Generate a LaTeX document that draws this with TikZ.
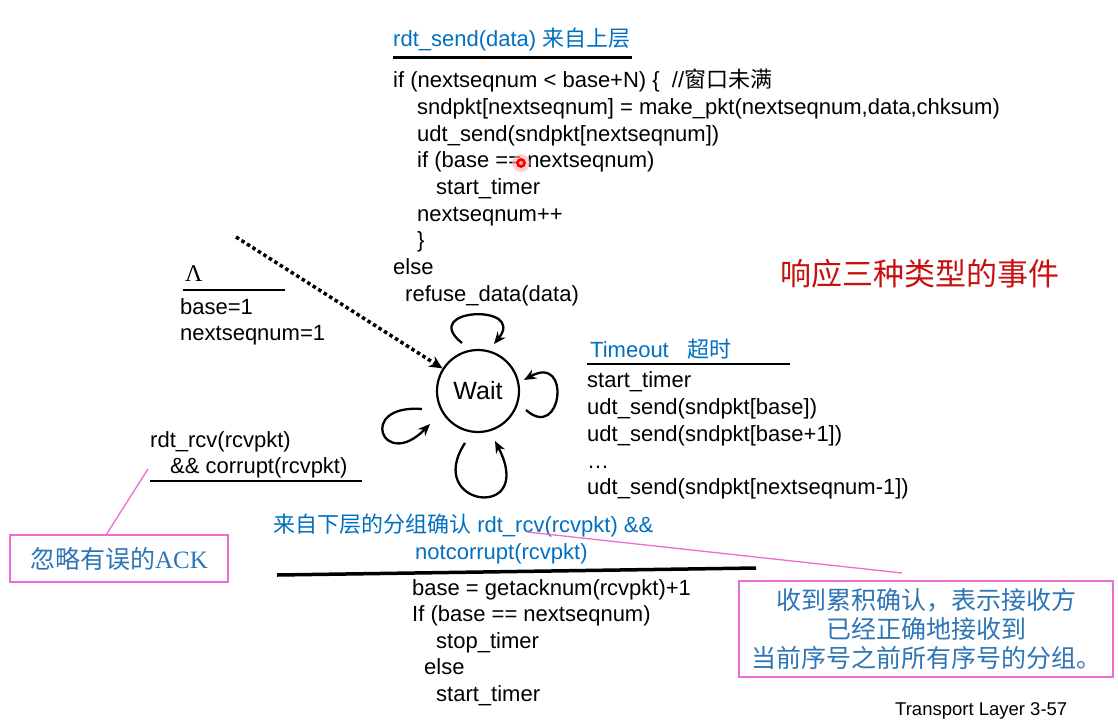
\documentclass[tikz,border=0pt]{standalone}
\usepackage{fontspec}
\setmainfont{Liberation Sans}
\newfontfamily\cjk{Noto Sans CJK SC}
\newfontfamily\serifl{Liberation Serif}
\usetikzlibrary{arrows.meta}
\definecolor{tblue}{RGB}{0,112,192}
\definecolor{cblue}{RGB}{46,117,182}
\definecolor{cpink}{RGB}{235,110,215}
\definecolor{tred}{RGB}{200,16,16}
\begin{document}
\begin{tikzpicture}[x=1pt,y=-1pt,
  code/.style={font=\fontsize{22}{26}\selectfont, anchor=base west, inner sep=0pt, text=black},
  ttl/.style={code, text=tblue},
  uline/.style={line width=3pt},
  sloop/.style={line width=2.3pt, -{Stealth[length=12pt,width=10pt]}},
  callout/.style={draw=cpink, line width=1.6pt, text=cblue, inner sep=0pt, font=\cjk\fontsize{25}{29}\selectfont, align=center},
  pinkline/.style={cpink, line width=1.3pt}]

\fill[white] (0,0) rectangle (1118,726);
\useasboundingbox (0,0) rectangle (1118,726);

% top block: rdt_send
\node[ttl] (t0) at (393,46) {rdt\_send(data) {\cjk 来自上层}};
\draw[uline] (393,57) -- (632,57);
\node[code] (t1) at (393,87) {if (nextseqnum < base+N) \{\ \ //{\cjk 窗口未满}};
\node[code] (t2) at (417,114) {sndpkt[nextseqnum] = make\_pkt(nextseqnum,data,chksum)};
\node[code] (t3) at (417,141) {udt\_send(sndpkt[nextseqnum])};
\node[code] (t4) at (417,167) {if (base == nextseqnum)};
\node[code] (t5) at (436,194) {start\_timer};
\node[code] (t6) at (417,221) {nextseqnum++};
\node[code] (t7) at (417,247) {\}};
\node[code] (t8) at (393,274) {else};
\node[code] (t9) at (405,301) {refuse\_data(data)};

% pointer dot
\fill[red!30, opacity=0.6] (521,163) circle (9pt);
\fill[red] (521,163) circle (5pt);
\fill[red!30] (521,163) circle (2pt);

% red heading
\node[anchor=west, inner sep=0pt, text=tred, font=\cjk\fontsize{31}{36}\selectfont] (ev) at (780,274) {响应三种类型的事件};

% initial transition
\node[anchor=base west, inner sep=0pt, font=\serifl\fontsize{24}{26}\selectfont] (lam) at (185,281) {Λ};
\draw[line width=2.5pt] (183,290) -- (285,290);
\node[code] (b1) at (180,314) {base=1};
\node[code] (b2) at (180,340) {nextseqnum=1};
\coordinate (init) at (236,237);

% state
\node[circle, draw, line width=2.2pt, minimum size=82pt, inner sep=0pt, font=\fontsize{25}{28}\selectfont] (w) at (478,391) {Wait};
\draw[line width=3.5pt, dash pattern=on 3.5pt off 3pt, -{Stealth[length=13pt,width=12pt]}] (init) -- (w);

% self loops
\coordinate (la0) at (462,343); \coordinate (la1) at (494,344);
\draw[sloop] (la0) .. controls (418,308) and (527,303) .. (la1);
\coordinate (lb0) at (526,410); \coordinate (lb1) at (524,380);
\draw[sloop] (lb0) .. controls (562,442) and (572,353) .. (lb1);
\coordinate (lc0) at (422,409); \coordinate (lc1) at (430,424);
\draw[sloop] (lc0) .. controls (356,404) and (383,472) .. (lc1);
\coordinate (ld0) at (465,443); \coordinate (ld1) at (495,441);
\draw[sloop] (ld0) .. controls (423,507) and (537,522) .. (ld1);

% timeout block
\node[ttl] (r0) at (590,357) {Timeout\ \ \ {\cjk 超时}};
\draw[line width=2pt] (587,364) -- (790,364);
\node[code] (r1) at (587,387) {start\_timer};
\node[code] (r2) at (587,414) {udt\_send(sndpkt[base])};
\node[code] (r3) at (587,441) {udt\_send(sndpkt[base+1])};
\node[code] (r4) at (587,468) {…};
\node[code] (r5) at (587,494) {udt\_send(sndpkt[nextseqnum-1])};

% corrupt block
\node[code] (c1) at (150,447) {rdt\_rcv(rcvpkt)};
\node[code] (c2) at (170,473) {\&\& corrupt(rcvpkt)};
\draw[line width=2.5pt] (150,481) -- (362,481);

% ack block
\node[ttl] (a1) at (273,532) {{\cjk 来自下层的分组确认} rdt\_rcv(rcvpkt) \&\&};
\node[ttl] (a2) at (415,559) {notcorrupt(rcvpkt)};
\draw[line width=3.5pt] (277,575) -- (756,568);
\node[code] (a3) at (412,595) {base = getacknum(rcvpkt)+1};
\node[code] (a4) at (412,621) {If (base == nextseqnum)};
\node[code] (a5) at (436,648) {stop\_timer};
\node[code] (a6) at (424,674) {else};
\node[code] (a7) at (436,701) {start\_timer};

% callouts
\node[callout, minimum width=218pt, minimum height=47pt] (ack) at (119,558.5) {忽略有误的{\serifl ACK}};
\node[callout, minimum width=374pt, minimum height=96pt] (cum) at (926,629) {收到累积确认，表示接收方\\已经正确地接收到\\当前序号之前所有序号的分组。};
\coordinate (p1) at (148,469); \coordinate (p2) at (106,535);
\draw[pinkline] (p1) -- (p2);
\coordinate (p3) at (527,532); \coordinate (p4) at (902,573);
\draw[pinkline] (p3) -- (p4);

% footer
\node[anchor=base west, inner sep=0pt, font=\fontsize{18.5}{22}\selectfont] (tl) at (895,715) {Transport Layer 3-57};
\end{tikzpicture}
\end{document}
